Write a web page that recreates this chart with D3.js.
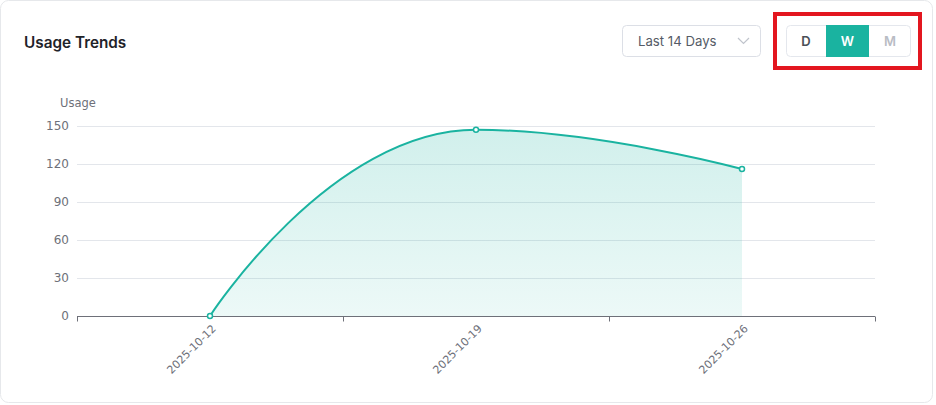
<!DOCTYPE html>
<html>
<head>
<meta charset="utf-8">
<script src="https://cdn.jsdelivr.net/npm/d3@7/dist/d3.min.js"></script>
<style>
  html, body { margin: 0; padding: 0; background: #ffffff; }
  body { width: 936px; height: 405px; overflow: hidden; font-family: Inter, "Noto Sans", sans-serif; }
</style>
</head>
<body>
<svg id="chart" width="936" height="405"></svg>
<script>
const categories = ["2025-10-12", "2025-10-19", "2025-10-26"];
const usageValues = [0, 147, 116];
const yTicks = [0, 30, 60, 90, 120, 150];
const rangeOptions = ["Last 14 Days"];
const granularity = ["D", "W", "M"];
const activeGranularity = "W";

const svg = d3.select("#chart");
const teal = "#1ab3a0";

// Card
svg.append("rect").attr("x", 0.5).attr("y", 0.5).attr("width", 932).attr("height", 402)
  .attr("rx", 8).attr("fill", "#fff").attr("stroke", "#e6e8eb");

// Title
svg.append("text").attr("x", 24).attr("y", 48).text("Usage Trends")
  .attr("font-family", "Inter, sans-serif").attr("font-size", 15.3).attr("font-weight", 600)
  .attr("fill", "#1f2329");

// Dropdown
const dd = svg.append("g");
dd.append("rect").attr("x", 622.5).attr("y", 25.5).attr("width", 138).attr("height", 31)
  .attr("rx", 4).attr("fill", "#fff").attr("stroke", "#dcdfe6");
dd.append("text").attr("x", 638).attr("y", 46).text(rangeOptions[0])
  .attr("font-family", "Inter, sans-serif").attr("font-size", 13.2).attr("fill", "#555b66");
dd.append("path").attr("d", "M738,38 L743.5,43.5 L749,38").attr("fill", "none")
  .attr("stroke", "#c0c4cc").attr("stroke-width", 1.2);

// Segmented control
const seg = svg.append("g");
seg.append("rect").attr("x", 786.5).attr("y", 25.5).attr("width", 124).attr("height", 31)
  .attr("rx", 4).attr("fill", "#fff").attr("stroke", "#e4e7ed");
const segX = [786, 826, 869, 911];
granularity.forEach((g, i) => {
  const active = g === activeGranularity;
  if (active) {
    seg.append("rect").attr("x", segX[i]).attr("y", 25).attr("width", segX[i + 1] - segX[i])
      .attr("height", 32).attr("fill", teal);
  }
  seg.append("text").attr("x", (segX[i] + segX[i + 1]) / 2).attr("y", 46)
    .attr("text-anchor", "middle").text(g)
    .attr("font-family", "Inter, sans-serif").attr("font-size", 13).attr("font-weight", 600)
    .attr("fill", active ? "#fff" : (g === "D" ? "#4a4f57" : "#b8bcc4"));
});
// Red highlight box
svg.append("rect").attr("x", 775).attr("y", 14).attr("width", 145).attr("height", 54)
  .attr("fill", "none").attr("stroke", "#e3161f").attr("stroke-width", 4);

// Chart scales
const x = d3.scaleBand().domain(categories).range([77, 875]);
const y = d3.scaleLinear().domain([0, 150]).range([316, 126]);

// Grid
svg.append("g").selectAll("line").data(yTicks.filter(d => d > 0)).join("line")
  .attr("x1", 77).attr("x2", 875).attr("y1", d => y(d) + 0.5).attr("y2", d => y(d) + 0.5)
  .attr("stroke", "#e3e6eb").attr("stroke-width", 1);

// Y axis labels
svg.append("g").selectAll("text").data(yTicks).join("text")
  .attr("x", 69).attr("y", d => y(d) + 4).attr("text-anchor", "end").text(d => d)
  .attr("font-family", "'DejaVu Sans', sans-serif").attr("font-size", 12).attr("fill", "#6e7079");
svg.append("text").attr("x", 78).attr("y", 107).attr("text-anchor", "middle").text("Usage")
  .attr("font-family", "'DejaVu Sans', sans-serif").attr("font-size", 11.5).attr("fill", "#6e7079");

// Gradient
const defs = svg.append("defs");
const grad = defs.append("linearGradient").attr("id", "ag").attr("x1", 0).attr("y1", 0).attr("x2", 0).attr("y2", 1);
grad.append("stop").attr("offset", "0%").attr("stop-color", teal).attr("stop-opacity", 0.2);
grad.append("stop").attr("offset", "100%").attr("stop-color", teal).attr("stop-opacity", 0.08);

const cx = d => x(d) + x.bandwidth() / 2;
const data = categories.map((c, i) => ({ c, v: usageValues[i] }));
const pts = data.map(d => [cx(d.c), y(d.v)]);

// ECharts-style smooth bezier (smooth = 0.5) with clamping to avoid overshoot
function smoothPath(p, smooth) {
  const n = p.length;
  const cpIn = [], cpOut = [];
  for (let i = 0; i < n; i++) {
    const [px, py] = p[i];
    if (i === 0 || i === n - 1) { cpIn[i] = [px, py]; cpOut[i] = [px, py]; continue; }
    const [ax, ay] = p[i - 1], [bx, by] = p[i + 1];
    let vx = bx - ax, vy = by - ay;
    const lp = Math.hypot(px - ax, py - ay), ln = Math.hypot(bx - px, by - py);
    const r = ln / (lp + ln);
    let nx = px + vx * smooth * r, ny = py + vy * smooth * r;
    nx = Math.max(Math.min(nx, Math.max(bx, px)), Math.min(bx, px));
    ny = Math.max(Math.min(ny, Math.max(by, py)), Math.min(by, py));
    vx = nx - px; vy = ny - py;
    let ix = px - vx * lp / ln, iy = py - vy * lp / ln;
    ix = Math.max(Math.min(ix, Math.max(ax, px)), Math.min(ax, px));
    iy = Math.max(Math.min(iy, Math.max(ay, py)), Math.min(ay, py));
    vx = px - ix; vy = py - iy;
    nx = px + vx * ln / lp; ny = py + vy * ln / lp;
    cpIn[i] = [ix, iy]; cpOut[i] = [nx, ny];
  }
  const path = d3.path();
  path.moveTo(p[0][0], p[0][1]);
  for (let i = 1; i < n; i++) {
    path.bezierCurveTo(cpOut[i - 1][0], cpOut[i - 1][1], cpIn[i][0], cpIn[i][1], p[i][0], p[i][1]);
  }
  return path.toString();
}
const linePath = smoothPath(pts, 0.5);
const areaPath = linePath + `L${pts[pts.length - 1][0]},${y(0)}L${pts[0][0]},${y(0)}Z`;

svg.append("path").attr("d", areaPath).attr("fill", "url(#ag)");

// X axis
const gx = svg.append("g").attr("transform", "translate(0,316.5)");
gx.append("line").attr("x1", 77).attr("x2", 875).attr("stroke", "#6e7079");
const tickXs = [x.range()[0], ...categories.map(c => x(c) + x.bandwidth())];
gx.selectAll("line.tk").data(tickXs).join("line").attr("class", "tk")
  .attr("x1", d => Math.round(d) + 0.5).attr("x2", d => Math.round(d) + 0.5)
  .attr("y1", 0).attr("y2", 5).attr("stroke", "#6e7079");
gx.selectAll("text").data(categories).join("text")
  .attr("transform", d => `translate(${cx(d) + 4},${10}) rotate(-45)`)
  .attr("text-anchor", "end").attr("dy", "0.35em").text(d => d)
  .attr("font-family", "'DejaVu Sans', sans-serif").attr("font-size", 11).attr("fill", "#6e7079");

svg.append("path").attr("d", linePath).attr("fill", "none")
  .attr("stroke", teal).attr("stroke-width", 2);

svg.append("g").selectAll("circle").data(data).join("circle")
  .attr("cx", d => cx(d.c)).attr("cy", d => y(d.v)).attr("r", 2.5)
  .attr("fill", "#fff").attr("stroke", teal).attr("stroke-width", 1.5);
</script>
</body>
</html>
